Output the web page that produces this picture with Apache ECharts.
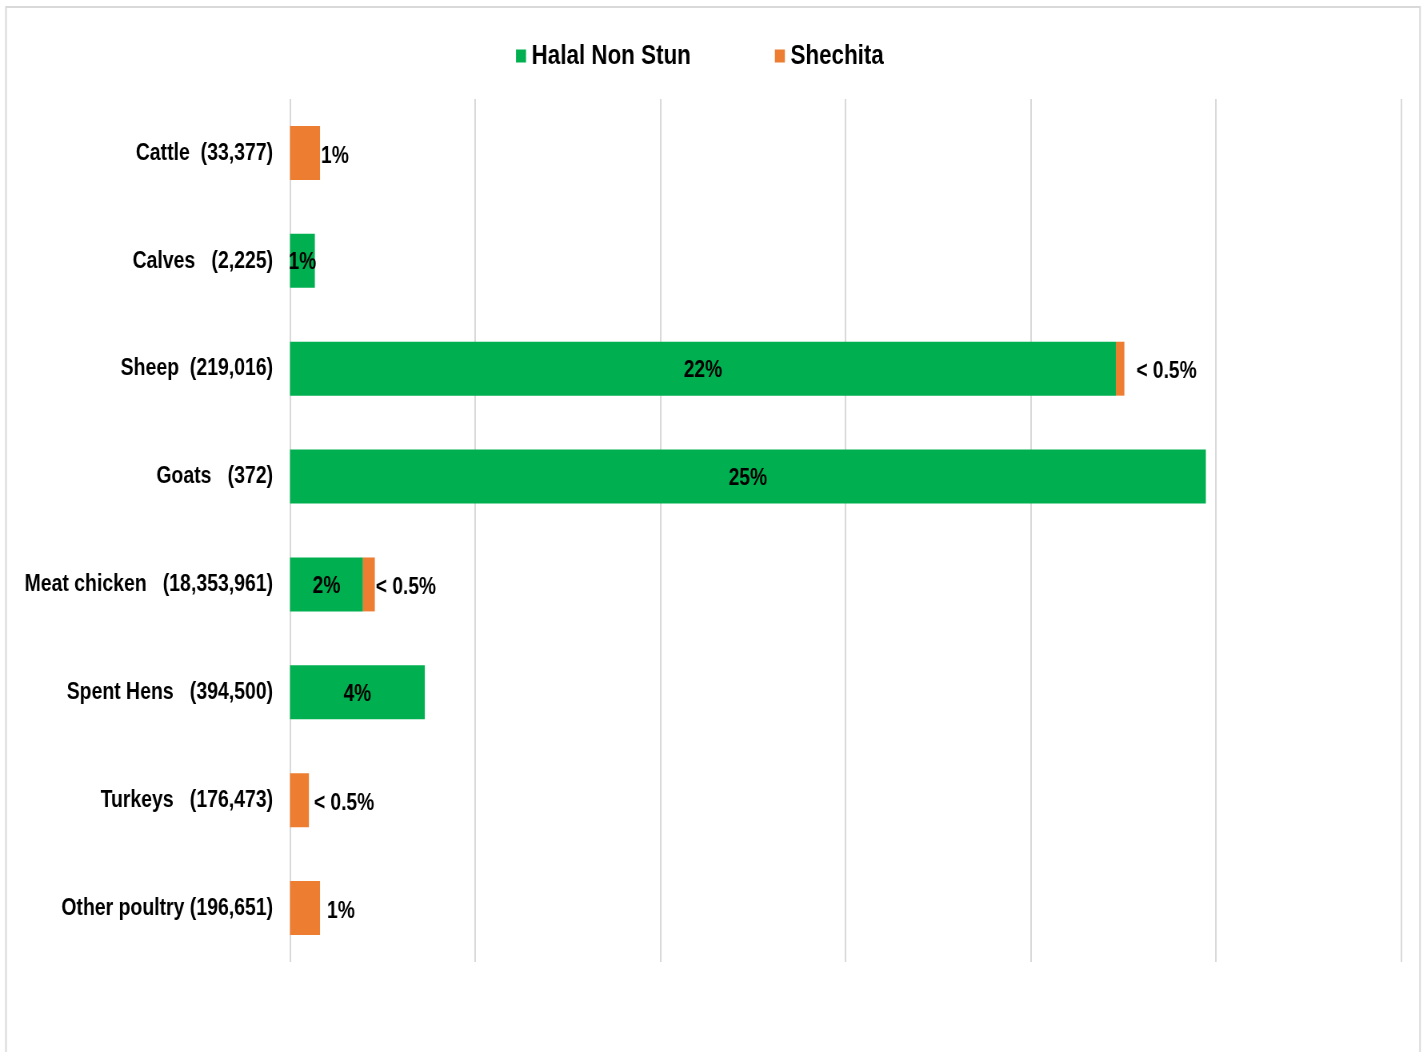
<!DOCTYPE html>
<html>
<head>
<meta charset="utf-8">
<style>
html,body{margin:0;padding:0;background:#fff;overflow:hidden;width:1427px;height:1052px;}
#chart{width:1784px;height:1052px;transform:scaleX(0.79989);transform-origin:0 0;}
</style>
<script src="https://cdn.jsdelivr.net/npm/echarts@6/dist/echarts.min.js"></script>
</head>
<body>
<div id="chart"></div>
<script>
const categories = ['Cattle  (33,377)', 'Calves   (2,225)', 'Sheep  (219,016)', 'Goats   (372)', 'Meat chicken   (18,353,961)', 'Spent Hens   (394,500)', 'Turkeys   (176,473)', 'Other poultry (196,651)'];
const halalValues = [0, 0.67, 22.3, 24.73, 1.97, 3.64, 0, 0];
const shechitaValues = [0.81, 0, 0.23, 0, 0.32, 0, 0.51, 0.81];
const halalLabels = ['', '1%', '22%', '25%', '2%', '4%', '', ''];
const shechitaLabels = ['1%', '', '< 0.5%', '', '< 0.5%', '', '< 0.5%', '1%'];

// The chart is drawn on a wider canvas and squeezed horizontally (CSS scaleX)
// to reproduce the narrow bold typeface of the original.
const SX = 0.79989;
const FONT = '"Liberation Sans", Arial, sans-serif';
const GREEN = '#00b050';
const ORANGE = '#ed7d31';
const LABEL_DIST = [1, 0, 12, 0, 1, 0, 5, 7];

const chart = echarts.init(document.getElementById('chart'), null, {renderer: 'canvas'});
chart.setOption({
  backgroundColor: '#fff',
  animation: false,
  graphic: [{
    type: 'rect',
    shape: {x: 6 / SX, y: 7, width: 1414 / SX, height: 1060},
    style: {fill: 'none', stroke: '#d9d9d9', lineWidth: 2},
    silent: true, z: -1
  }],
  legend: {
    top: 37,
    left: 512 / SX,
    itemWidth: 12.5,
    itemHeight: 13,
    itemGap: 84 / SX,
    icon: 'rect',
    textStyle: {fontFamily: FONT, fontWeight: 'bold', fontSize: 28, color: '#000', padding: [0, 0, 0, 2]},
    data: ['Halal Non Stun', 'Shechita']
  },
  grid: {left: 290 / SX, right: 26 / SX, top: 99, bottom: 90, containLabel: false, outerBoundsMode: 'none'},
  xAxis: {
    type: 'value', min: 0, max: 30, interval: 5,
    axisLabel: {show: false}, axisTick: {show: false}, axisLine: {show: false},
    splitLine: {show: true, lineStyle: {color: '#d9d9d9', width: 2}}
  },
  yAxis: {
    type: 'category', data: categories, inverse: true,
    axisTick: {show: false}, axisLine: {show: false},
    axisLabel: {margin: 17 / SX, fontFamily: FONT, fontWeight: 'bold', fontSize: 24.3, color: '#000', padding: [4, 0, 0, 0]}
  },
  series: [
    {
      name: 'Halal Non Stun', type: 'bar', stack: 's', barWidth: '50%',
      itemStyle: {color: GREEN},
      data: halalValues.map((v, i) => ({value: v, label: {show: !!halalLabels[i], formatter: halalLabels[i]}})),
      label: {position: 'inside', color: '#000', fontFamily: FONT, fontWeight: 'bold', fontSize: 24, offset: [0, 2]}
    },
    {
      name: 'Shechita', type: 'bar', stack: 's', barWidth: '50%',
      itemStyle: {color: ORANGE},
      data: shechitaValues.map((v, i) => ({value: v, label: {show: !!shechitaLabels[i], formatter: shechitaLabels[i], distance: LABEL_DIST[i] / SX}})),
      label: {position: 'right', color: '#000', fontFamily: FONT, fontWeight: 'bold', fontSize: 24, offset: [0, 3]}
    }
  ]
});
</script>
</body>
</html>
